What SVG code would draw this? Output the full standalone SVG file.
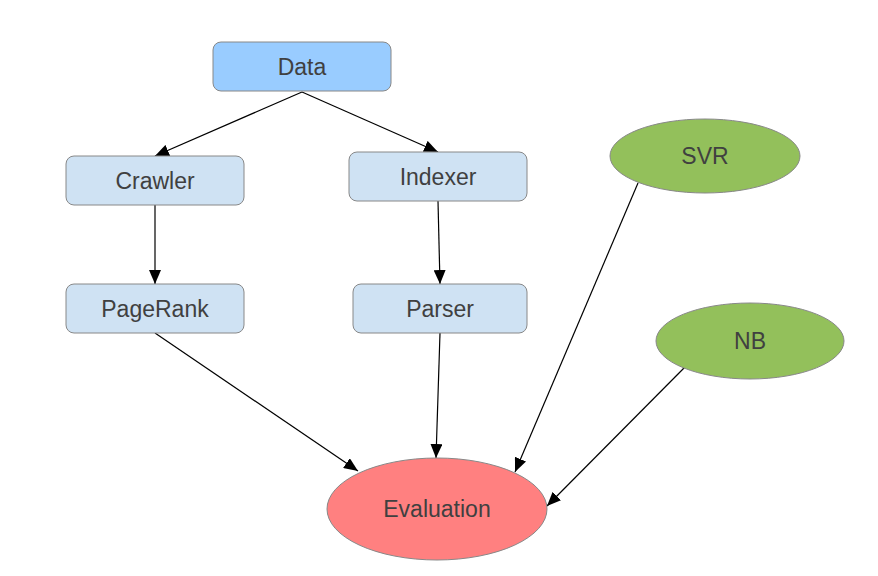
<svg xmlns="http://www.w3.org/2000/svg" width="878" height="576" viewBox="0 0 878 576">
<style>
.box{stroke:#888;stroke-width:1}
.blue{fill:#99ccff}
.light{fill:#cfe2f3}
.green{fill:#93c05b;stroke:#888;stroke-width:1}
.red{fill:#ff8080;stroke:#888;stroke-width:1}
text{font-family:"Liberation Sans",Arial,sans-serif;font-size:23px;fill:#404040;text-anchor:middle;dominant-baseline:central}
.edge{stroke:#000;stroke-width:1.2;fill:none;marker-end:url(#ah)}
</style>
<defs>
<marker id="ah" viewBox="0 0 14 12" refX="14" refY="6" markerWidth="14" markerHeight="12" markerUnits="userSpaceOnUse" orient="auto">
<path d="M0,0 L14,6 L0,12 z" fill="#000"/>
</marker>
</defs>
<rect width="878" height="576" fill="#fff"/>
<g id="connectors">
<line class="edge" x1="302" y1="92" x2="155" y2="156"/>
<line class="edge" x1="302" y1="92" x2="438" y2="152"/>
<line class="edge" x1="155" y1="205" x2="155" y2="284"/>
<line class="edge" x1="438" y1="201" x2="440" y2="284"/>
<line class="edge" x1="155" y1="333" x2="358" y2="471"/>
<line class="edge" x1="440" y1="333" x2="436" y2="458"/>
<line class="edge" x1="638" y1="183" x2="515" y2="472"/>
<line class="edge" x1="685" y1="367" x2="547" y2="506"/>
</g>
<g id="data"><rect class="box blue" x="213" y="42" width="178" height="49" rx="8"/><text x="302" y="67">Data</text></g>
<g id="crawler"><rect class="box light" x="66" y="156" width="178" height="49" rx="8"/><text x="155" y="181">Crawler</text></g>
<g id="indexer"><rect class="box light" x="349" y="152" width="178" height="49" rx="8"/><text x="438" y="177">Indexer</text></g>
<g id="pagerank"><rect class="box light" x="66" y="284" width="178" height="49" rx="8"/><text x="155" y="309">PageRank</text></g>
<g id="parser"><rect class="box light" x="353" y="284" width="174" height="49" rx="8"/><text x="440" y="309">Parser</text></g>
<g id="svr"><ellipse class="green" cx="705" cy="156" rx="95" ry="37"/><text x="705" y="156">SVR</text></g>
<g id="nb"><ellipse class="green" cx="750" cy="341" rx="94" ry="38"/><text x="750" y="341">NB</text></g>
<g id="evaluation"><ellipse class="red" cx="437" cy="509" rx="110" ry="51"/><text x="437" y="509">Evaluation</text></g>
</svg>
